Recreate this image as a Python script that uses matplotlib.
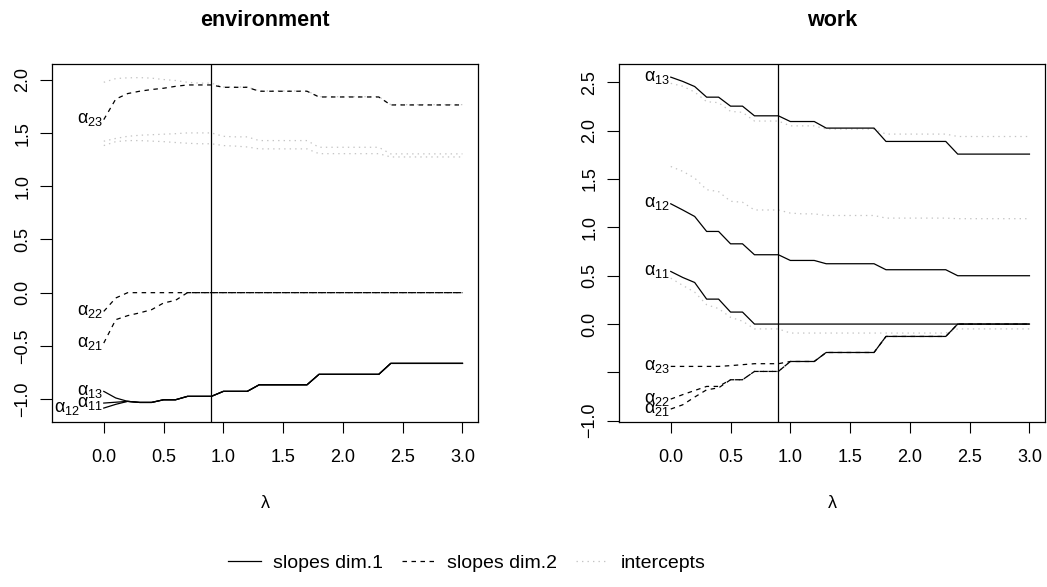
import numpy as np
import matplotlib
matplotlib.use("Agg")
import matplotlib.pyplot as plt
from matplotlib.lines import Line2D

plt.rcParams['font.family'] = ['Liberation Sans', 'DejaVu Sans']
plt.rcParams['mathtext.fontset'] = 'custom'
plt.rcParams['mathtext.rm'] = 'Liberation Sans'
plt.rcParams['mathtext.it'] = 'Liberation Sans'
plt.rcParams['mathtext.bf'] = 'Liberation Sans:bold'

# grade de lambda (0.0 ... 3.0)
lam = np.round(np.arange(31) * 0.1, 1)
lam_sel = 0.9

# --- environment ---
env_a11 = [-1.038, -1.03, -1.022, -1.032, -1.032, -1.007, -1.007, -0.975, -0.975, -0.975,
           -0.928, -0.928, -0.928] + [-0.866] * 5 + [-0.768] * 6 + [-0.665] * 7
env_a12 = [-1.085, -1.05, -1.022, -1.032, -1.032, -1.007, -1.007, -0.975, -0.975, -0.975,
           -0.928, -0.928, -0.928] + [-0.866] * 5 + [-0.768] * 6 + [-0.665] * 7
env_a13 = [-0.928, -0.99, -1.022, -1.032, -1.032, -1.007, -1.007, -0.975, -0.975, -0.975,
           -0.928, -0.928, -0.928] + [-0.866] * 5 + [-0.768] * 6 + [-0.665] * 7
env_a21 = [-0.474, -0.254, -0.216, -0.19, -0.16, -0.097, -0.072] + [0.0] * 24
env_a22 = [-0.176, -0.05] + [0.0] * 29
env_a23 = [1.627, 1.82, 1.872, 1.894, 1.91, 1.922, 1.94, 1.953, 1.953, 1.953,
           1.931, 1.931, 1.931] + [1.894] * 5 + [1.84] * 6 + [1.765] * 7
env_int1 = [1.978, 2.013, 2.02, 2.022, 2.017, 2.004, 1.995, 1.978, 1.97, 1.97,
            1.934, 1.934, 1.934] + [1.897] * 5 + [1.843] * 6 + [1.768] * 7
env_int2 = [1.424, 1.45, 1.47, 1.48, 1.485, 1.49, 1.495, 1.502, 1.502, 1.502,
            1.47, 1.465, 1.465] + [1.43] * 5 + [1.367] * 6 + [1.305] * 7
env_int3 = [1.383, 1.42, 1.43, 1.43, 1.425, 1.42, 1.412, 1.405, 1.40, 1.40,
            1.383, 1.378, 1.37] + [1.352] * 5 + [1.307] * 6 + [1.276] * 7

# --- work ---
work_a11 = [0.544, 0.482, 0.43, 0.258, 0.258, 0.124, 0.124] + [0.0] * 24
work_a12 = [1.244, 1.18, 1.113, 0.958, 0.958, 0.83, 0.83, 0.717, 0.717, 0.717,
            0.658, 0.658, 0.658] + [0.624] * 5 + [0.562] * 6 + [0.5] * 7
work_a13 = [2.554, 2.51, 2.457, 2.347, 2.347, 2.254, 2.254, 2.154, 2.154, 2.154,
            2.095, 2.095, 2.095] + [2.027] * 5 + [1.889] * 6 + [1.758] * 7
work_a21 = [-0.879, -0.835, -0.755, -0.68, -0.66, -0.576, -0.576, -0.49, -0.49, -0.49,
            -0.387, -0.387, -0.387] + [-0.294] * 5 + [-0.128] * 6 + [0.0] * 7
work_a22 = [-0.776, -0.73, -0.687, -0.645, -0.645, -0.576, -0.576, -0.49, -0.49, -0.49,
            -0.387, -0.387, -0.387] + [-0.294] * 5 + [-0.128] * 6 + [0.0] * 7
work_a23 = [-0.438, -0.438, -0.438, -0.438, -0.438, -0.43, -0.42, -0.41, -0.41, -0.41,
            -0.387, -0.387, -0.387] + [-0.294] * 5 + [-0.128] * 6 + [0.0] * 7
work_int1 = [2.49, 2.46, 2.40, 2.30, 2.29, 2.20, 2.19, 2.10, 2.10, 2.10,
             2.05, 2.05, 2.05] + [2.017] * 5 + [1.965] * 6 + [1.94] * 7
work_int2 = [1.63, 1.58, 1.51, 1.39, 1.37, 1.27, 1.26, 1.18, 1.18, 1.18,
             1.148, 1.14, 1.14] + [1.123] * 5 + [1.096] * 6 + [1.09] * 7
work_int3 = [0.475, 0.40, 0.33, 0.20, 0.16, 0.07, 0.03, -0.05, -0.05, -0.05,
             -0.093, -0.093, -0.093] + [-0.093] * 5 + [-0.093] * 6 + [-0.05] * 7

FS = 13
LW = 0.9
DASH = (0, (3.6, 3.6))
DOT = (0, (1.1, 3.3))
CINZA = '#c4c4c4'


def painel(ax, titulo, slopes1, slopes2, inters, rotulos, ylim, yticks, ylabels):
    for s in inters:
        ax.plot(lam, s, color=CINZA, lw=LW, linestyle=DOT)
    for s in slopes2:
        ax.plot(lam, s, color='black', lw=LW, linestyle=DASH)
    for s in slopes1:
        ax.plot(lam, s, color='black', lw=LW, linestyle='-')
    ax.axvline(lam_sel, color='black', lw=LW)

    for nome, xpos, ypos in rotulos:
        ax.text(xpos, ypos, r'$\alpha_{%s}$' % nome, ha='right', va='center',
                fontsize=FS)

    ax.set_xlim(-0.433, 3.13)
    ax.set_ylim(*ylim)
    ax.set_xticks([0, 0.5, 1.0, 1.5, 2.0, 2.5, 3.0])
    ax.set_xticklabels(['0.0', '0.5', '1.0', '1.5', '2.0', '2.5', '3.0'])
    ax.set_yticks(yticks)
    ax.set_yticklabels(ylabels, rotation=90, va='center')
    ax.tick_params(axis='x', length=8, width=0.8, pad=11.5, labelsize=FS)
    ax.tick_params(axis='y', length=8.5, width=0.8, pad=6.5, labelsize=FS)
    for sp in ax.spines.values():
        sp.set_linewidth(0.9)
    ax.text(0.5, 1 + 44 / 358, titulo, transform=ax.transAxes, ha='center',
            va='center', fontsize=15.5, fontweight='bold')
    ax.text(0.5, -81 / 358, r'$\lambda$', transform=ax.transAxes, ha='center',
            va='center', fontsize=FS)


fig = plt.figure(figsize=(10.47, 5.87), dpi=100)
ax1 = fig.add_axes([52 / 1047, 165 / 587, 426 / 1047, 358 / 587])
ax2 = fig.add_axes([619 / 1047, 165 / 587, 426 / 1047, 358 / 587])

painel(ax1, 'environment',
       [env_a11, env_a12, env_a13], [env_a21, env_a22, env_a23],
       [env_int1, env_int2, env_int3],
       [('23', -0.01, env_a23[0]), ('22', -0.01, env_a22[0]), ('21', -0.01, env_a21[0]),
        ('13', -0.01, env_a13[0]), ('11', -0.01, env_a11[0]), ('12', -0.2, env_a12[0])],
       (-1.216, 2.15),
       [-1.0, -0.5, 0.0, 0.5, 1.0, 1.5, 2.0],
       ['\u22121.0', '\u22120.5', '0.0', '0.5', '1.0', '1.5', '2.0'])

painel(ax2, 'work',
       [work_a11, work_a12, work_a13], [work_a21, work_a22, work_a23],
       [work_int1, work_int2, work_int3],
       [('13', -0.01, work_a13[0]), ('12', -0.01, work_a12[0]), ('11', -0.01, work_a11[0]),
        ('23', -0.01, work_a23[0]), ('22', -0.01, work_a22[0]), ('21', -0.01, work_a21[0])],
       (-1.013, 2.69),
       [-1.0, -0.5, 0.0, 0.5, 1.0, 1.5, 2.0, 2.5],
       ['\u22121.0', '', '0.0', '0.5', '1.0', '1.5', '2.0', '2.5'])

handles = [Line2D([], [], color='black', lw=LW, linestyle='-'),
           Line2D([], [], color='black', lw=LW, linestyle=DASH),
           Line2D([], [], color=CINZA, lw=LW, linestyle=DOT)]
fig.legend(handles, ['slopes dim.1', 'slopes dim.2', 'intercepts'],
           loc='center', bbox_to_anchor=(467 / 1047, 1 - 563 / 587), ncol=3,
           frameon=False, fontsize=14, handlelength=1.7, handletextpad=0.6,
           columnspacing=1.0)

fig.savefig('out.png', dpi=100)
